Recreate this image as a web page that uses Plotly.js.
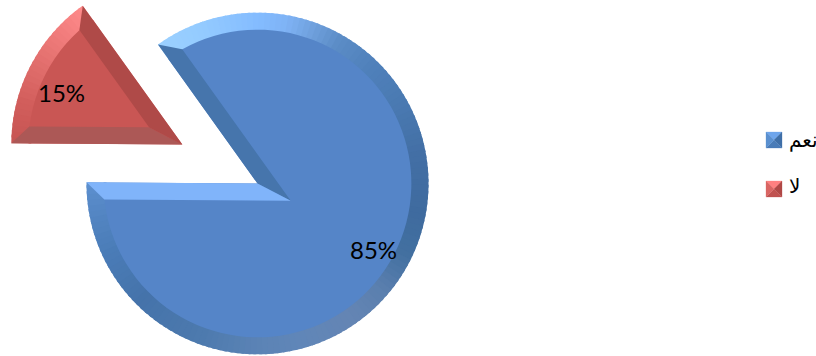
<!DOCTYPE html>
<html>
<head>
<meta charset="utf-8">
<script src="https://cdn.plot.ly/plotly-3.0.1.min.js"></script>
<style>
  html, body { margin: 0; padding: 0; width: 816px; height: 356px; overflow: hidden; background: #fff; }
  #stage { position: absolute; left: 0; }
</style>
</head>
<body>
<div id="stage"></div>
<script>
// Chart data
const categories = ['نعم', 'لا'];
const shares = [85, 15];
const faceColors = ['#5585C8', '#C95654'];

// Rim shading, clockwise angle from north paired with a colour
const blueRimAngles = [325, 340, 360, 370, 380, 390, 405, 420, 440, 460, 475, 490, 505, 525, 540, 560, 585, 605, 620, 631];
const blueRimColors = ['#9BD0FF', '#94CBFF', '#84BCFF', '#7FB3F5', '#6FA0DC', '#5B8CC6', '#4F80BA', '#4A7AB2', '#436FA5', '#3F6B9F', '#4270A0', '#5A7FAE', '#6485B4', '#6086B8', '#5B83B5', '#4D7AAE', '#4573AA', '#4A7CB7', '#5486C3', '#5D90D0'];
const redRimAngles = [270, 285, 300, 315, 325];
const redRimColors = ['#C65452', '#D25E5C', '#E26F6D', '#F47F7F', '#FF8C8C'];

// Flat bevel colours along the straight edges of each wedge
const blueBevels = {start: '#4675AC', end: '#80B4FA'};
const redBevels = {start: '#AF4A48', end: '#AC5856'};

// Legend swatch facets: top, right, bottom, left
const swatchFacets = [
  ['#6EA5EC', '#3F6FA8', '#4A7CB8', '#5A90D0'],
  ['#FF8080', '#B04846', '#C05250', '#D96563']
];

// Pie geometry in page pixels
const WIDTH = 816, centerX = 257.5, centerY = 183.5;
const faceRadius = 154, outerRadius = 171, bevel = 17, rotation = -35.6;
const pull = 0.55;

// Plotly shrinks a pulled pie to fit its domain, so the stage is taller than the page
const HEIGHT = 2 * faceRadius * (1 + pull);
const topOffset = HEIGHT / 2 - centerY;
const stage = document.getElementById('stage');
stage.style.top = (-topOffset) + 'px';

const px = x => x / WIDTH;
const py = y => 1 - (y + topOffset) / HEIGHT;
const rad = a => a * Math.PI / 180;
const polar = (c, r, a) => [c[0] + r * Math.sin(rad(a)), c[1] - r * Math.cos(rad(a))];
const toPath = pts => 'M' + pts.map(p => px(p[0]) + ',' + py(p[1])).join('L') + 'Z';

const hexRgb = h => [1, 3, 5].map(i => parseInt(h.substr(i, 2), 16));
function sampleColor(angles, colors, a) {
  let i = 0;
  while (i < angles.length - 2 && a > angles[i + 1]) i++;
  const t = Math.max(0, Math.min(1, (a - angles[i]) / (angles[i + 1] - angles[i])));
  const A = hexRgb(colors[i]), B = hexRgb(colors[i + 1]);
  return 'rgb(' + A.map((v, k) => Math.round(v + (B[k] - v) * t)).join(',') + ')';
}

// Angular spans of the two wedges, taken from their shares
const total = shares.reduce((s, v) => s + v, 0);
const startBlue = 360 + rotation;
const endBlue = startBlue + 360 * shares[0] / total;
const endRed = endBlue - 360 + 360 * shares[1] / total;
const startRed = endBlue - 360;
const midRed = (startRed + endRed) / 2;
const blueCenter = [centerX, centerY];
const redCenter = polar(blueCenter, pull * faceRadius, midRed);

const shapes = [];

// Shaded outer ring, laid under the pie faces
function addRim(center, from, to, angles, colors, step) {
  for (let a = from; a < to; a += step) {
    const b = Math.min(a + step + 1, to);
    const pts = [];
    for (let s = a; s <= b + 0.001; s += (b - a) / 4) pts.push(polar(center, outerRadius, s));
    pts.push(polar(center, faceRadius - 3, b), polar(center, faceRadius - 3, a));
    const color = sampleColor(angles, colors, a + step / 2);
    shapes.push({type: 'path', layer: 'below', xref: 'paper', yref: 'paper', path: toPath(pts),
      fillcolor: color, line: {width: 0}});
  }
}
addRim(blueCenter, startBlue, endBlue, blueRimAngles, blueRimColors, 2);
addRim(redCenter, startRed, endRed, redRimAngles, redRimColors, 2);

// Straight bevels: an edge of the wedge, offset inward to meet the face circle
function innerCorner(center, a, b) {
  const dirA = [Math.sin(rad(a)), -Math.cos(rad(a))], dirB = [Math.sin(rad(b)), -Math.cos(rad(b))];
  const nA = [-dirA[1], dirA[0]], nB = [dirB[1], -dirB[0]];
  const pA = [center[0] + nA[0] * bevel, center[1] + nA[1] * bevel];
  const pB = [center[0] + nB[0] * bevel, center[1] + nB[1] * bevel];
  const det = dirA[0] * dirB[1] - dirA[1] * dirB[0];
  const t = ((pB[0] - pA[0]) * dirB[1] - (pB[1] - pA[1]) * dirB[0]) / det;
  return [pA[0] + dirA[0] * t, pA[1] + dirA[1] * t];
}
function faceHit(center, a, side) {
  const dir = [Math.sin(rad(a)), -Math.cos(rad(a))];
  const n = [-dir[1] * side, dir[0] * side];
  const o = [center[0] + n[0] * bevel, center[1] + n[1] * bevel];
  const d = Math.sqrt(faceRadius * faceRadius - bevel * bevel);
  return [o[0] + dir[0] * d, o[1] + dir[1] * d];
}
function addBevels(center, a, b, colors) {
  const apex = innerCorner(center, a, b);
  [[a, 1, colors.start], [b, -1, colors.end]].forEach(([ang, side, color]) => {
    shapes.push({type: 'path', layer: 'above', xref: 'paper', yref: 'paper',
      path: toPath([polar(center, outerRadius, ang), center, apex, faceHit(center, ang, side)]),
      fillcolor: color, line: {width: 0}});
  });
}
addBevels(blueCenter, startBlue, endBlue, blueBevels);
addBevels(redCenter, startRed, endRed, {start: redBevels.end, end: redBevels.start});

// Legend keys: four facets meeting at the middle of a small square
const swatchLeft = 766, swatchSize = 16, swatchTops = [132, 181];
swatchTops.forEach((top, i) => {
  const l = swatchLeft, r = l + swatchSize, t = top, b = t + swatchSize;
  const m = [l + swatchSize / 2, t + swatchSize / 2];
  const facets = [[[l, t], [r, t], m], [[r, t], [r, b], m], [[r, b], [l, b], m], [[l, b], [l, t], m]];
  facets.forEach((f, k) => shapes.push({type: 'path', layer: 'above', xref: 'paper', yref: 'paper',
    path: toPath(f), fillcolor: swatchFacets[i][k], line: {color: swatchFacets[i][k], width: 0.3}}));
});

const legendY = [140, 186];
const legendNotes = categories.map((label, i) => ({
  text: label, xref: 'paper', yref: 'paper', x: px(787), y: py(legendY[i]),
  xanchor: 'left', yanchor: 'middle', showarrow: false,
  font: {family: 'DejaVu Sans, Noto Sans, sans-serif', size: 20, color: '#000'}
}));

// Percentage labels come from the shares
const labelX = [373, 61], labelY = [250, 92];
const percentNotes = shares.map((v, i) => ({
  text: Math.round(100 * v / total) + '%', xref: 'paper', yref: 'paper',
  x: px(labelX[i]), y: py(labelY[i]), xanchor: 'center', yanchor: 'middle', showarrow: false,
  font: {family: 'Lato, Open Sans, sans-serif', size: 24, color: '#000'}
}));

const trace = {
  type: 'pie', labels: categories, values: shares, sort: false, direction: 'clockwise',
  rotation: rotation, pull: [0, pull],
  domain: {x: [px(centerX - HEIGHT / 2), px(centerX + HEIGHT / 2)], y: [0, 1]},
  marker: {colors: faceColors, line: {width: 0}},
  textinfo: 'none', hoverinfo: 'label+percent', showlegend: false
};

Plotly.newPlot(stage, [trace], {
  width: WIDTH, height: HEIGHT, margin: {l: 0, r: 0, t: 0, b: 0},
  paper_bgcolor: '#fff', showlegend: false, shapes,
  annotations: legendNotes.concat(percentNotes)
}, {displayModeBar: false, responsive: false});
</script>
</body>
</html>
